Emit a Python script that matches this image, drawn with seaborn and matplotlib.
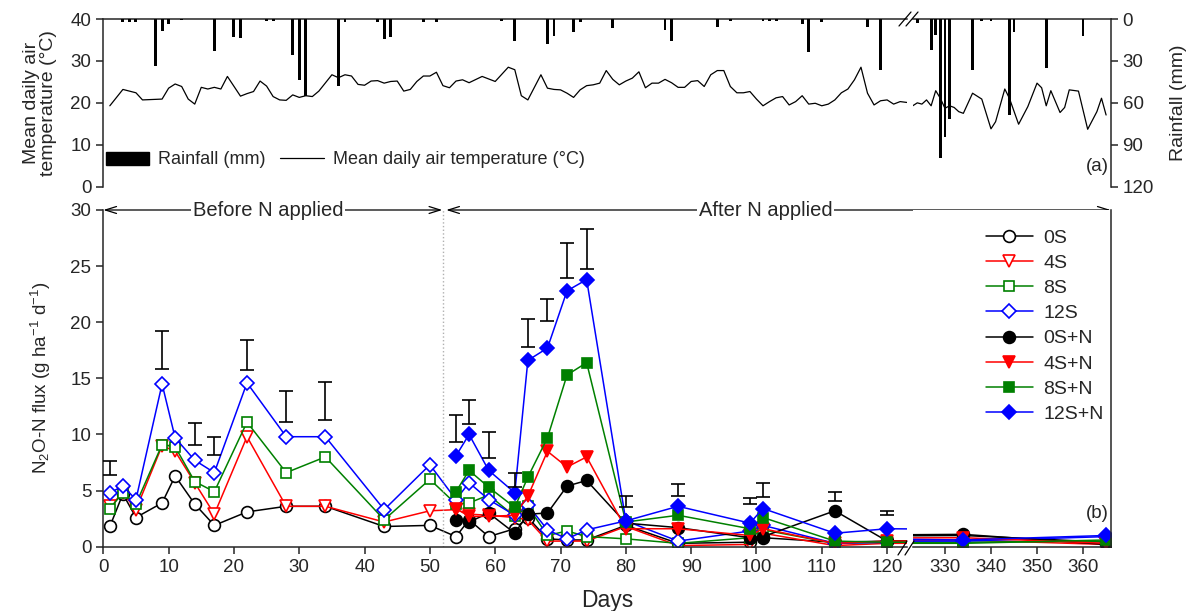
import matplotlib
matplotlib.use('Agg')
import matplotlib.pyplot as plt
from matplotlib.lines import Line2D
from matplotlib.patches import Patch
import seaborn as sns

# ---- panel (a): weather ----
temp_days = [1, 3, 5, 6, 9, 10, 11, 12, 13, 14, 15, 16, 17, 18, 19, 21, 22, 23, 24, 25,
             26, 27, 28, 29, 30, 31, 32, 33, 35, 36, 37, 38, 39, 40, 41, 42, 43, 44, 45, 46,
             47, 48, 49, 50, 51, 52, 53, 54, 55, 56, 58, 60, 62, 63, 64, 65, 67, 68, 69, 70,
             71, 72, 73, 74, 75, 76, 77, 78, 79, 80, 81, 82, 83, 84, 85, 86, 87, 88, 89, 90,
             91, 92, 93, 94, 95, 96, 97, 98, 99, 100, 101, 102, 103, 104, 105, 106, 107, 108,
             109, 110, 111, 112, 113, 114, 115, 116, 117, 118, 119, 120, 121, 122, 123,
             323, 324, 325, 326, 327, 328, 329, 330, 331, 332, 333, 334, 336, 338, 340, 341,
             343, 344, 346, 348, 350, 351, 352, 353, 355, 356, 357, 359, 361, 363, 364, 365]
temp_vals = [19.3, 23.2, 22.4, 20.7, 20.9, 23.5, 24.5, 23.9, 20.9, 19.7, 23.7, 23.3, 23.7, 23.3,
             26.3, 21.6, 22.2, 22.7, 25.2, 24.0, 21.5, 20.7, 20.6, 21.9, 21.3, 21.7, 21.5, 22.8,
             26.7, 26.0, 26.7, 26.4, 24.4, 24.2, 25.2, 25.3, 24.7, 25.1, 25.2, 22.8, 23.2, 25.1,
             26.4, 26.4, 27.3, 24.1, 23.6, 25.2, 25.5, 24.8, 26.3, 25.1, 28.5, 27.9, 21.7, 20.7,
             26.7, 23.5, 23.2, 23.1, 22.3, 21.3, 23.1, 24.1, 24.3, 24.7, 27.7, 25.6, 24.3, 25.2,
             25.9, 27.4, 23.6, 24.7, 24.7, 25.6, 24.8, 23.7, 23.7, 25.1, 25.3, 23.9, 26.7, 27.7,
             27.7, 23.9, 22.4, 22.4, 22.7, 20.9, 19.3, 20.3, 21.2, 21.5, 19.5, 20.3, 21.7, 19.7,
             19.9, 19.3, 19.7, 20.7, 22.4, 23.3, 25.5, 28.5, 22.3, 19.5, 20.5, 20.7, 19.7, 20.3,
             20.1,
             19.3, 20.0, 19.7, 20.7, 19.3, 22.9, 21.1, 18.7, 19.3, 18.9, 17.9, 17.5, 22.3, 20.9,
             13.8, 15.5, 23.3, 21.1, 14.9, 19.1, 24.7, 23.6, 19.3, 22.9, 17.7, 18.9, 23.1, 22.8,
             13.7, 17.9, 21.1, 17.1]

rain_days = [3, 4, 5, 8, 9, 10, 12, 17, 20, 21, 25, 26, 29, 30, 31, 36, 37, 42, 43, 44, 49, 51,
             61, 63, 68, 69, 72, 73, 78, 86, 87, 94, 96, 101, 102, 103, 107, 108, 110, 117, 119,
             324, 327, 328, 329, 330, 331, 336, 338, 340, 344, 345, 352, 360]
rain_mm = [2, 2, 2, 33.4, 8.6, 3.8, 1.0, 22.9, 12.6, 13.4, 1.4, 1.4, 25.8, 43.7, 54.9, 48.0,
           2.4, 2.4, 14.3, 12.6, 2.4, 1.9, 1.4, 15.8, 18.1, 12.0, 9.1, 2.4, 6.2, 7.9, 15.8, 5.5,
           1.4, 1.4, 1.4, 1.4, 3.8, 23.9, 2.4, 5.5, 36.3,
           3.0, 22.2, 11.5, 99.3, 84.3, 71.6, 36.5, 1.2, 1.2, 68.7, 9.5, 34.8, 12.2]

# ---- panel (b): N2O-N flux ----
days = [1, 3, 5, 9, 11, 14, 17, 22, 28, 34, 43, 50, 54, 56, 59, 63, 65, 68, 71, 74,
        80, 88, 99, 101, 112, 120, 334, 365]
flux_0S = [1.8, 4.7, 2.6, 3.9, 6.3, 3.8, 1.9, 3.1, 3.6, 3.6, 1.8, 1.9, 0.9, 2.4, 0.9, 1.6,
           2.6, 0.7, 0.6, 0.6, 1.9, 0.3, 0.4, 0.8, 0.4, 0.5, 1.0, 0.4]
flux_4S = [3.6, 4.8, 3.3, 9.0, 8.5, 5.7, 2.9, 9.8, 3.6, 3.6, 2.2, 3.2, 3.3, 2.9, 2.8, 2.6,
           2.4, 0.5, 0.5, 0.5, 1.8, 0.1, 0.2, 1.2, 0.1, 0.3, 0.6, 0.2]
flux_8S = [3.4, 4.8, 3.8, 9.1, 8.9, 5.8, 4.9, 11.1, 6.6, 8.0, 2.4, 6.0, 3.8, 3.9, 4.6, 2.7,
           3.6, 1.0, 1.4, 0.9, 0.7, 0.3, 0.8, 1.5, 0.3, 0.4, 0.4, 0.5]
flux_12S = [4.8, 5.4, 4.2, 14.5, 9.7, 7.7, 6.6, 14.6, 9.8, 9.8, 3.3, 7.3, 4.2, 5.7, 4.2, 2.8,
            3.7, 1.5, 0.7, 1.5, 2.3, 0.5, 1.4, 1.9, 0.3, 0.4, 0.5, 0.9]

days_n = [54, 56, 59, 63, 65, 68, 71, 74, 80, 88, 99, 101, 112, 120, 334, 365]
flux_0SN = [2.4, 2.2, 3.0, 1.2, 2.9, 3.0, 5.4, 5.9, 2.1, 1.7, 0.8, 0.9, 3.2, 0.5, 1.1, 0.2]
flux_4SN = [3.4, 2.7, 2.7, 2.8, 4.5, 8.5, 7.1, 8.0, 1.6, 1.6, 1.0, 1.6, 0.3, 0.5, 0.8, 0.3]
flux_8SN = [4.9, 6.8, 5.3, 3.5, 6.2, 9.7, 15.3, 16.4, 2.2, 2.8, 1.6, 2.6, 0.5, 0.4, 0.3, 0.6]
flux_12SN = [8.1, 10.0, 6.8, 4.8, 16.6, 17.7, 22.8, 23.8, 2.3, 3.6, 2.1, 3.4, 1.2, 1.6, 0.6, 1.0]

# floating LSD-type bars (low end, high end)
err_days = [1, 9, 14, 17, 22, 28, 34, 54, 56, 59, 63, 65, 68, 71, 74, 80, 88, 99, 101, 112, 120]
err_lo = [6.4, 15.8, 9.1, 8.2, 15.7, 11.1, 11.3, 9.3, 10.9, 7.9, 5.3, 17.8, 20.1, 23.9, 24.7,
          3.5, 4.5, 3.8, 4.4, 4.1, 2.8]
err_hi = [7.6, 19.2, 11.0, 9.8, 18.4, 13.9, 14.7, 11.7, 13.1, 10.2, 6.6, 20.3, 22.1, 27.1, 28.3,
          4.5, 5.6, 4.3, 5.7, 4.9, 3.2]

series = [
    ('0S', days, flux_0S, 'black', 'o', 'white', 8.5),
    ('4S', days, flux_4S, 'red', 'v', 'white', 9),
    ('8S', days, flux_8S, 'green', 's', 'white', 7.5),
    ('12S', days, flux_12S, 'blue', 'D', 'white', 7),
    ('0S+N', days_n, flux_0SN, 'black', 'o', 'black', 8.5),
    ('4S+N', days_n, flux_4SN, 'red', 'v', 'red', 9),
    ('8S+N', days_n, flux_8SN, 'green', 's', 'green', 7.5),
    ('12S+N', days_n, flux_12SN, 'blue', 'D', 'blue', 7),
]

sns.set_style('ticks')
plt.rcParams['font.family'] = ['Liberation Sans', 'DejaVu Sans']
plt.rcParams['mathtext.default'] = 'regular'
plt.rcParams['axes.linewidth'] = 1.1

W, H = 1192, 611
fig = plt.figure(figsize=(W / 100, H / 100), dpi=100)


def box(x0, x1, y0, y1):
    return [x0 / W, 1 - y1 / H, (x1 - x0) / W, (y1 - y0) / H]


XL, XM1, XM2, XR = 103.3, 906.7, 912.7, 1110.7
ax_tl = fig.add_axes(box(XL, XM1, 19, 186.7))
ax_tr = fig.add_axes(box(XM2, XR, 19, 186.7))
ax_bl = fig.add_axes(box(XL, XM1, 210, 546.7))
ax_br = fig.add_axes(box(XM2, XR, 210, 546.7))
rn_l = ax_tl.twinx()
rn_r = ax_tr.twinx()

tick_fs = 13.5
lab_fs = 14

# ---- top panel ----
for ax in (ax_tl, ax_tr):
    sns.lineplot(x=temp_days, y=temp_vals, ax=ax, color='black', lw=0.9)
    ax.set_ylim(0, 40)
    ax.set_xticks([])
    ax.set_xlabel('')
    ax.set_ylabel('')
for rn, w in ((rn_l, 0.45), (rn_r, 0.62)):
    rn.bar(rain_days, rain_mm, width=w, color='black', linewidth=0)
    rn.set_ylim(120, 0)
ax_tl.set_xlim(0, 123)
rn_l.set_xlim(0, 123)
ax_tr.set_xlim(323, 366)
rn_r.set_xlim(323, 366)

ax_tl.set_yticks([0, 10, 20, 30, 40])
ax_tl.tick_params(axis='y', direction='out', length=5, width=1.1, labelsize=tick_fs)
ax_tr.set_yticks([])
rn_l.set_yticks([])
rn_r.set_yticks([0, 30, 60, 90, 120])
rn_r.tick_params(axis='y', direction='out', length=5, width=1.1, labelsize=tick_fs)
for a in (ax_tl, ax_tr, rn_l, rn_r):
    for s in a.spines.values():
        s.set_visible(False)
ax_tl.spines['left'].set_visible(True)
ax_tl.spines['top'].set_visible(True)
ax_tr.spines['top'].set_visible(True)
rn_r.spines['right'].set_visible(True)

ax_tl.set_ylabel('Mean daily air\ntemperature (°C)', fontsize=lab_fs, linespacing=0.95)
ax_tl.yaxis.set_label_coords(-0.058, 0.5)
rn_r.set_ylabel('Rainfall (mm)', fontsize=lab_fs)
rn_r.yaxis.set_label_coords(1.3, 0.5)
rn_r.text(0.99, 0.12, '(a)', transform=rn_r.transAxes, ha='right', va='center', fontsize=13.5)

fig.legend([Patch(facecolor='black', edgecolor='black'), Line2D([], [], color='black', lw=0.9)],
           ['Rainfall (mm)', 'Mean daily air temperature (°C)'], ncol=2,
           loc='center left', bbox_to_anchor=(106 / W, 1 - 160 / H), frameon=False,
           fontsize=13, handlelength=2.4, handletextpad=0.5, columnspacing=0.8,
           borderpad=0, borderaxespad=0)

# ---- bottom panel ----
handles = []
for name, d, v, c, m, fc, ms in series:
    style = dict(color=c, lw=1.1, marker=m, markersize=ms, markerfacecolor=fc,
                 markeredgecolor=c, markeredgewidth=1.2)
    for ax in (ax_bl, ax_br):
        sns.lineplot(x=d, y=v, ax=ax, **style)
    handles.append(Line2D([], [], **style))

mids = [(a + b) / 2 for a, b in zip(err_lo, err_hi)]
halfs = [(b - a) / 2 for a, b in zip(err_lo, err_hi)]
ax_bl.errorbar(err_days, mids, yerr=halfs, fmt='none', ecolor='black', elinewidth=1.2,
               capsize=5, capthick=1.2, zorder=5)

for ax in (ax_bl, ax_br):
    ax.set_ylim(0, 30)
    ax.set_xlabel('')
    ax.set_ylabel('')
    if ax.get_legend() is not None:
        ax.get_legend().remove()
ax_bl.set_xlim(0, 123)
ax_br.set_xlim(323, 366)
ax_bl.set_xticks(range(0, 121, 10))
ax_br.set_xticks(range(330, 361, 10))
ax_bl.set_yticks(range(0, 31, 5))
ax_br.set_yticks([])
for ax in (ax_bl, ax_br):
    ax.tick_params(direction='out', length=5, width=1.1, labelsize=tick_fs)
ax_bl.spines['top'].set_visible(False)
ax_bl.spines['right'].set_visible(False)
ax_br.spines['top'].set_visible(False)
ax_br.spines['left'].set_visible(False)

ax_bl.axvline(52, color='#b0b0b0', ls=':', lw=1)

arrow = dict(arrowstyle='<->,head_length=0.8,head_width=0.25', lw=0.9, color='black',
             shrinkA=0, shrinkB=0)
ax_bl.annotate('', xy=(0, 30), xytext=(51.9, 30), arrowprops=arrow, annotation_clip=False)
ax_bl.annotate('', xy=(366, 30), xycoords=ax_br.transData, xytext=(52.5, 30),
               textcoords='data', arrowprops=arrow, annotation_clip=False)
tb = dict(facecolor='white', edgecolor='none', pad=1.5)
ax_bl.text(25.2, 30, 'Before N applied', ha='center', va='center', fontsize=14.5, bbox=tb, zorder=10)
ax_bl.text(101.4, 30, 'After N applied', ha='center', va='center', fontsize=14.5, bbox=tb, zorder=10)

ax_bl.set_ylabel('N$_2$O-N flux (g ha$^{-1}$ d$^{-1}$)', fontsize=13.5)
ax_bl.yaxis.set_label_coords(-0.062, 0.5)
ax_br.text(0.99, 0.1, '(b)', transform=ax_br.transAxes, ha='right', va='center', fontsize=13.5)
fig.text(607 / W, 1 - 600 / H, 'Days', ha='center', va='center', fontsize=16.5)

fig.legend(handles, [s[0] for s in series], loc='upper left',
           bbox_to_anchor=(986 / W, 1 - 229 / H), frameon=False, fontsize=14,
           handlelength=2.4, handletextpad=0.55, labelspacing=0.39,
           borderpad=0, borderaxespad=0)

# axis break marks
for x0 in (898, 905):
    fig.add_artist(Line2D([x0 / W, (x0 + 9) / W], [1 - 555 / H, 1 - 541 / H],
                          color='black', lw=0.9))
for x0 in (899, 906):
    fig.add_artist(Line2D([x0 / W, (x0 + 12) / W], [1 - 26 / H, 1 - 12 / H],
                          color='black', lw=0.9))

fig.savefig('out.png', dpi=100)
